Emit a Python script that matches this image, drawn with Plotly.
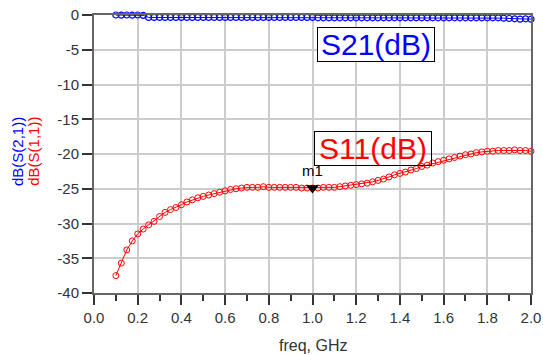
import plotly.graph_objects as go

freq = [0.100, 0.125, 0.150, 0.175, 0.200, 0.225, 0.250, 0.275, 0.300, 0.325,
        0.350, 0.375, 0.400, 0.425, 0.450, 0.475, 0.500, 0.525, 0.550, 0.575,
        0.600, 0.625, 0.650, 0.675, 0.700, 0.725, 0.750, 0.775, 0.800, 0.825,
        0.850, 0.875, 0.900, 0.925, 0.950, 0.975, 1.000, 1.025, 1.050, 1.075,
        1.100, 1.125, 1.150, 1.175, 1.200, 1.225, 1.250, 1.275, 1.300, 1.325,
        1.350, 1.375, 1.400, 1.425, 1.450, 1.475, 1.500, 1.525, 1.550, 1.575,
        1.600, 1.625, 1.650, 1.675, 1.700, 1.725, 1.750, 1.775, 1.800, 1.825,
        1.850, 1.875, 1.900, 1.925, 1.950, 1.975, 2.000]

s11_db = [-37.5, -35.7, -33.8, -32.5, -31.5, -30.8, -30.2, -29.7, -29.0, -28.4,
          -28.0, -27.7, -27.3, -26.9, -26.6, -26.3, -26.1, -25.9, -25.7, -25.5,
          -25.3, -25.1, -25.0, -24.9, -24.8, -24.8, -24.8, -24.7, -24.8, -24.8,
          -24.8, -24.8, -24.8, -24.8, -24.9, -24.9, -24.9, -24.9, -24.8, -24.8,
          -24.8, -24.7, -24.6, -24.5, -24.4, -24.3, -24.2, -24.0, -23.8, -23.6,
          -23.3, -23.0, -22.8, -22.6, -22.3, -22.1, -21.8, -21.6, -21.3, -21.1,
          -20.9, -20.7, -20.5, -20.3, -20.1, -20.0, -19.8, -19.7, -19.6, -19.6,
          -19.5, -19.5, -19.5, -19.4, -19.5, -19.5, -19.6]

s21_db = [0.00, -0.02, 0.00, -0.03, 0.00, -0.05, -0.35, -0.35, -0.35, -0.35,
          -0.35, -0.35, -0.35, -0.35, -0.35, -0.35, -0.35, -0.35, -0.35, -0.35,
          -0.35, -0.35, -0.35, -0.35, -0.35, -0.35, -0.35, -0.35, -0.35, -0.35,
          -0.35, -0.35, -0.35, -0.35, -0.35, -0.35, -0.35, -0.40, -0.40, -0.40,
          -0.40, -0.40, -0.40, -0.40, -0.40, -0.40, -0.40, -0.40, -0.40, -0.40,
          -0.40, -0.40, -0.40, -0.40, -0.40, -0.40, -0.40, -0.40, -0.40, -0.40,
          -0.40, -0.40, -0.40, -0.40, -0.40, -0.40, -0.40, -0.40, -0.40, -0.40,
          -0.40, -0.45, -0.50, -0.55, -0.60, -0.55, -0.60]

x_ticks = [0.0, 0.2, 0.4, 0.6, 0.8, 1.0, 1.2, 1.4, 1.6, 1.8, 2.0]
x_ticklabels = ["0.0", "0.2", "0.4", "0.6", "0.8", "1.0", "1.2", "1.4", "1.6", "1.8", "2.0"]
y_ticks = [0, -5, -10, -15, -20, -25, -30, -35, -40]
y_ticklabels = ["0", "-5", "-10", "-15", "-20", "-25", "-30", "-35", "-40"]

marker_name = "m1"
marker_index = freq.index(1.000)

FONT = "Liberation Sans, Arial, sans-serif"

fig = go.Figure()
fig.add_trace(go.Scatter(
    x=freq, y=s21_db, mode="lines+markers", cliponaxis=False,
    line=dict(color="#0000ff", width=1),
    marker=dict(symbol="circle-open", size=6, color="#0000ff", line=dict(width=1.2)),
    showlegend=False))
fig.add_trace(go.Scatter(
    x=freq, y=s11_db, mode="lines+markers", cliponaxis=False,
    line=dict(color="#ff0000", width=1),
    marker=dict(symbol="circle-open", size=6, color="#ff0000", line=dict(width=1)),
    showlegend=False))
fig.add_trace(go.Scatter(
    x=[freq[marker_index]], y=[s11_db[marker_index]], mode="markers+text",
    text=[marker_name], textposition="top center",
    textfont=dict(family=FONT, size=15, color="#000000"),
    marker=dict(symbol="triangle-down", size=11, color="#000000"),
    cliponaxis=False, showlegend=False))

fig.update_layout(
    width=543, height=355,
    margin=dict(l=94, r=12, t=15, b=62, autoexpand=False),
    paper_bgcolor="white", plot_bgcolor="white",
    font=dict(family=FONT, size=15, color="#333333"),
    xaxis=dict(range=[0, 2], tickvals=x_ticks, ticktext=x_ticklabels,
               automargin=False,
               showgrid=True, gridcolor="#cccccc", gridwidth=1.5,
               showline=True, linecolor="#666666", linewidth=2, mirror=True,
               ticks="outside", ticklen=10, tickcolor="#333333", tickwidth=1.5,
               minor=dict(dtick=0.1, tick0=0, ticks="outside", ticklen=6,
                          tickcolor="#333333", showgrid=False),
               zeroline=False, tickfont=dict(size=15, color="#333333")),
    yaxis=dict(range=[-40, 0], tickvals=y_ticks, ticktext=y_ticklabels,
               automargin=False,
               showgrid=True, gridcolor="#cccccc", gridwidth=1.5,
               showline=True, linecolor="#666666", linewidth=2, mirror=True,
               ticks="outside", ticklen=10, tickcolor="#333333", tickwidth=1.5,
               zeroline=False, tickfont=dict(size=15, color="#333333")),
    annotations=[
        dict(text="S21(dB)", x=1.289, y=-4.26, xref="x", yref="y",
             showarrow=False, font=dict(family=FONT, size=30, color="#0000ff"),
             bordercolor="#000000", borderwidth=1, borderpad=0,
             width=116, height=33, bgcolor="white"),
        dict(text="S11(dB)", x=1.277, y=-19.2, xref="x", yref="y",
             showarrow=False, font=dict(family=FONT, size=30, color="#ff0000"),
             bordercolor="#000000", borderwidth=1, borderpad=0,
             width=116, height=33, bgcolor="rgba(0,0,0,0)"),
        dict(text="dB(S(2,1))", x=-0.175, y=0.509, xref="paper", yref="paper",
             textangle=-90, showarrow=False, xanchor="center", yanchor="middle",
             font=dict(family=FONT, size=15, color="#0000ff")),
        dict(text="dB(S(1,1))", x=-0.139, y=0.509, xref="paper", yref="paper",
             textangle=-90, showarrow=False, xanchor="center", yanchor="middle",
             font=dict(family=FONT, size=15, color="#ff0000")),
        dict(text="freq, GHz", x=0.5, y=-0.189, xref="paper", yref="paper",
             showarrow=False, xanchor="center", yanchor="middle",
             font=dict(family=FONT, size=16, color="#333333")),
    ],
)

fig.write_html("out.html")
